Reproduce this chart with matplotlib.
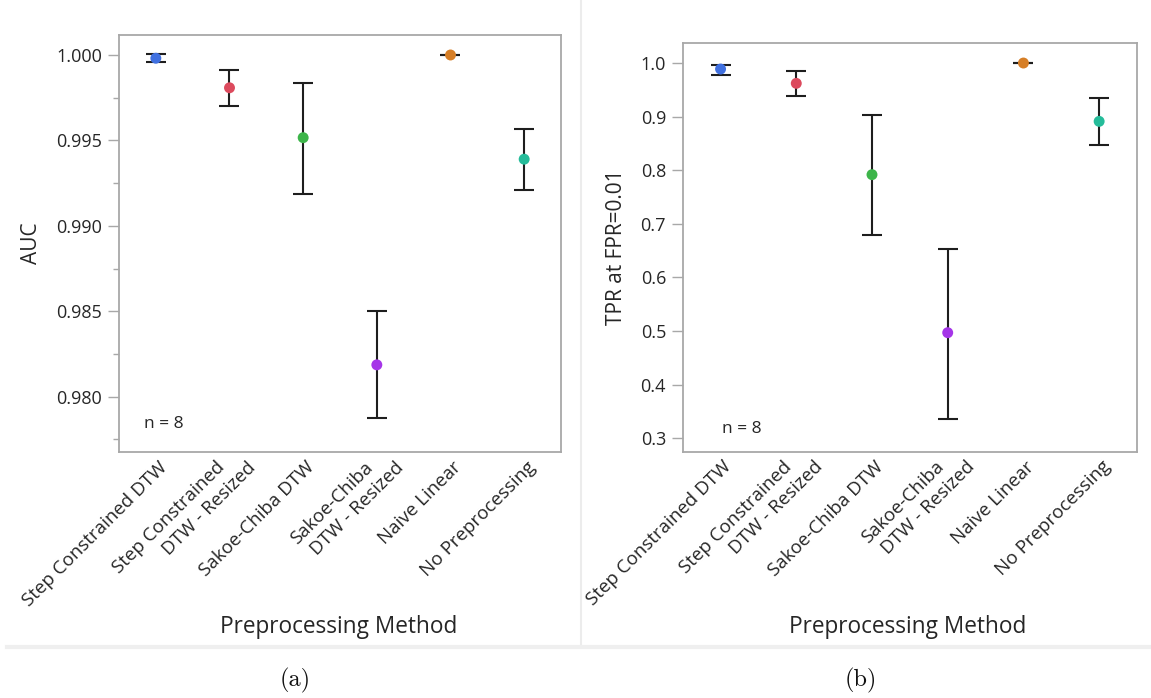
import matplotlib
matplotlib.use("Agg")
import matplotlib.pyplot as plt
from matplotlib.lines import Line2D
from matplotlib.ticker import MultipleLocator, FixedLocator, FormatStrFormatter
from matplotlib.transforms import blended_transform_factory, ScaledTranslation
import numpy as np

# ---- data -------------------------------------------------------------
methods = [
    "Step Constrained DTW",
    "Step Constrained\nDTW - Resized",
    "Sakoe-Chiba DTW",
    "Sakoe-Chiba\nDTW - Resized",
    "Naive Linear",
    "No Preprocessing",
]
method_colors = ["#4070E0", "#DC4A5D", "#3DB54A", "#A535E8", "#D67E26", "#25BC9A"]

auc_mean = [0.99981, 0.99808, 0.99516, 0.98186, 1.00000, 0.99390]
auc_low = [0.99960, 0.99702, 0.99184, 0.97877, 1.00000, 0.99212]
auc_high = [1.00004, 0.99914, 0.99837, 0.98500, 1.00000, 0.99568]

tpr_mean = [0.9888, 0.9621, 0.7918, 0.4970, 1.0000, 0.8912]
tpr_low = [0.9783, 0.9384, 0.6787, 0.3369, 1.0000, 0.8470]
tpr_high = [0.9969, 0.9845, 0.9037, 0.6535, 1.0000, 0.9353]

auc_ticks = [0.980, 0.985, 0.990, 0.995, 1.000]
tpr_ticks = [0.3, 0.4, 0.5, 0.6, 0.7, 0.8, 0.9, 1.0]
n_obs = 8

# ---- style ------------------------------------------------------------
FONT = "Open Sans"
TEXT = "#262626"
FRAME = "#a8a8a8"
W, H, DPI = 1151, 698, 100

plt.rcParams["font.family"] = [FONT, "DejaVu Sans"]

fig = plt.figure(figsize=(W / DPI, H / DPI), dpi=DPI)


def px_box(x0, y0, x1, y1):
    """Axes rectangle from pixel corners (top-left origin)."""
    return [x0 / W, 1 - y1 / H, (x1 - x0) / W, (y1 - y0) / H]


def draw_panel(ax, mean, low, high, ylim, ticks, minor, fmt, ylabel,
               ylabel_x, n_pos):
    x = np.arange(len(methods))
    m = np.asarray(mean)
    lo = np.asarray(low)
    hi = np.asarray(high)
    ax.errorbar(x, m, yerr=[m - lo, hi - m], fmt="none", ecolor="#1e1e1e",
                elinewidth=1.5, capsize=7, capthick=1.5, zorder=2)
    ax.scatter(x, m, s=62, c=method_colors, edgecolors="none", zorder=3)

    ax.set_xlim(-0.5, len(methods) - 0.5)
    ax.set_ylim(*ylim)
    ax.yaxis.set_major_locator(FixedLocator(ticks))
    ax.yaxis.set_major_formatter(FormatStrFormatter(fmt))
    if minor:
        ax.yaxis.set_minor_locator(MultipleLocator(minor))
    ax.tick_params(axis="y", which="major", length=8, width=1.0,
                   color=FRAME, labelsize=13, labelcolor=TEXT, pad=4)
    ax.tick_params(axis="y", which="minor", length=4, width=1.0, color=FRAME)
    ax.set_xticks(x)
    ax.set_xticklabels([])
    ax.tick_params(axis="x", length=0)
    for sp in ax.spines.values():
        sp.set_color(FRAME)
        sp.set_linewidth(1.3)

    # rotated category labels; each line anchored at its upper-right end
    trans = blended_transform_factory(ax.transData, ax.transAxes)
    for i, label in enumerate(methods):
        lines = label.split("\n")
        nl = len(lines)
        for j, line in enumerate(lines):
            dx = 2 + (j - (nl - 1) / 2) * 31
            off = ScaledTranslation(dx / DPI, -6 / DPI, fig.dpi_scale_trans)
            ax.text(i, 0, line, transform=trans + off, rotation=45,
                    rotation_mode="anchor", ha="right", va="top",
                    fontsize=13.5, color=TEXT, clip_on=False)

    ax.set_ylabel(ylabel, fontsize=15, color=TEXT)
    ax.yaxis.set_label_coords(ylabel_x, 0.5)
    ax.text(n_pos[0], n_pos[1], f"n = {n_obs}", transform=ax.transAxes,
            fontsize=12.5, color=TEXT, ha="left", va="baseline")


ax_auc = fig.add_axes(px_box(119, 35, 561, 452.3))
draw_panel(ax_auc, auc_mean, auc_low, auc_high, (0.97674, 1.00117),
           auc_ticks, 0.0025, "%.3f", "AUC", -0.175, (0.057, 0.058))

ax_tpr = fig.add_axes(px_box(682.7, 43.3, 1137, 451.7))
draw_panel(ax_tpr, tpr_mean, tpr_low, tpr_high, (0.275, 1.0368),
           tpr_ticks, None, "%.1f", "TPR at FPR=0.01", -0.1226, (0.086, 0.046))

for cx in (339, 908):
    fig.text(cx / W, 1 - 627 / H, "Preprocessing Method", ha="center",
             va="center", fontsize=16.3, color=TEXT)

# light panel separators
fig.add_artist(Line2D([581 / W, 581 / W], [1 - 647 / H, 1], transform=fig.transFigure,
                      color="#ececec", lw=1.5))
fig.add_artist(Line2D([0.006, 1], [1 - 647 / H, 1 - 647 / H], transform=fig.transFigure,
                      color="#efefef", lw=3))

# sub-figure captions
for cx, tag in ((295, "(a)"), (861, "(b)")):
    fig.text(cx / W, 1 - 680 / H, tag, ha="center", va="center",
             fontsize=17.5, family="cmr10", color="#111111")

fig.savefig("out.png", dpi=DPI)
